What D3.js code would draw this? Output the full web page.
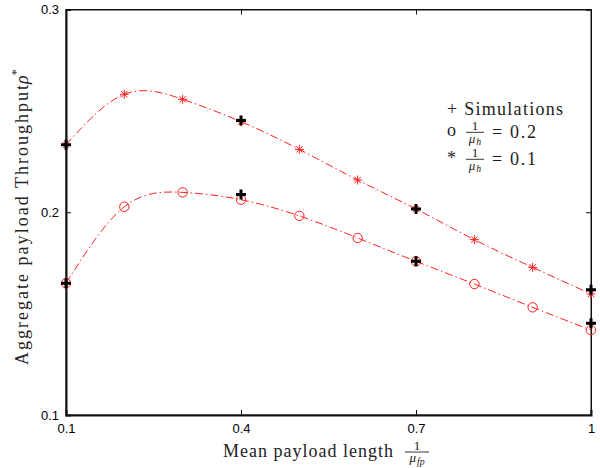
<!DOCTYPE html>
<html>
<head>
<meta charset="utf-8">
<script src="https://cdn.jsdelivr.net/npm/d3@7"></script>
<style>
  body { margin: 0; background: #fff; }
  .tick text { font-family: "Liberation Sans", Arial, sans-serif; font-size: 13px; }
  .lbl { font-family: "Liberation Serif", "Times New Roman", serif; fill: #222; }
</style>
</head>
<body>
<div id="chart"></div>
<script>
// mean payload length 1/mu_fp
const xVals = [0.1, 0.2, 0.3, 0.4, 0.5, 0.6, 0.7, 0.8, 0.9, 1.0]
// analytic throughput, 1/mu_h = 0.1 (stars) and 0.2 (circles)
const rhoH01 = [0.2333, 0.2582, 0.2557, 0.2447, 0.2310, 0.2159, 0.2016, 0.1865, 0.1728, 0.1597]
const rhoH02 = [0.1650, 0.2027, 0.2098, 0.2062, 0.1982, 0.1873, 0.1758, 0.1646, 0.1531, 0.1419]
// simulation points
const simX = [0.1, 0.4, 0.7, 1.0]
const simH01 = [0.2333, 0.2452, 0.2016, 0.1618]
const simH02 = [0.1650, 0.2088, 0.1758, 0.1452]
const xTicks = [0.1, 0.4, 0.7, 1]
const yTicks = [0.1, 0.2, 0.3]

const W = 600, H = 468
const pLeft = 66, pRight = 591, pTop = 9.5, pBottom = 415

const svg = d3.select('#chart')
  .append('svg')
  .attr('width', W)
  .attr('height', H)

const x = d3.scaleLinear().domain([0.1, 1]).range([pLeft, pRight])
const y = d3.scaleLinear().domain([0.1, 0.3]).range([pBottom, pTop])

// box
svg.append('rect')
  .attr('x', pLeft).attr('y', pTop)
  .attr('width', pRight - pLeft).attr('height', pBottom - pTop)
  .attr('fill', 'none').attr('stroke', '#111').attr('stroke-width', 1)

// axes, ticks inward
svg.append('g')
  .attr('transform', `translate(0,${pBottom})`)
  .call(d3.axisBottom(x).tickValues(xTicks).tickSize(-5).tickPadding(9).tickFormat(d3.format('')))
  .call(g => g.select('.domain').attr('stroke-width', 2))
svg.append('g')
  .attr('transform', `translate(0,${pTop})`)
  .call(d3.axisTop(x).tickValues(xTicks).tickSize(-5).tickFormat(''))
svg.append('g')
  .attr('transform', `translate(${pLeft},0)`)
  .call(d3.axisLeft(y).tickValues(yTicks).tickSize(-5).tickPadding(7).tickFormat(d3.format('')))
  .call(g => g.select('.domain').attr('stroke-width', 2))
svg.append('g')
  .attr('transform', `translate(${pRight},0)`)
  .call(d3.axisRight(y).tickValues(yTicks).tickSize(-5).tickFormat(''))
svg.selectAll('.domain').attr('stroke', '#111')
svg.selectAll('.tick line').attr('stroke', '#111')
svg.selectAll('.tick text').attr('fill', '#000')

// curves
const line = d3.line()
  .x(d => x(d[0]))
  .y(d => y(d[1]))
  .curve(d3.curveNatural)

const series = [rhoH01, rhoH02]
series.forEach(vals => {
  svg.append('path')
    .datum(xVals.map((v, i) => [v, vals[i]]))
    .attr('d', line)
    .attr('fill', 'none')
    .attr('stroke', '#ff2020')
    .attr('stroke-width', 1)
    .attr('stroke-dasharray', '8,3,1.5,3')
})

// star markers
const star = svg.append('g')
xVals.forEach((v, i) => {
  const cx = x(v), cy = y(rhoH01[i]), r = 4.5
  for (let a = 0; a < 4; a++) {
    const ang = a * Math.PI / 4
    star.append('line')
      .attr('x1', cx - r * Math.cos(ang)).attr('y1', cy - r * Math.sin(ang))
      .attr('x2', cx + r * Math.cos(ang)).attr('y2', cy + r * Math.sin(ang))
      .attr('stroke', '#ff2020').attr('stroke-width', 1)
  }
})

// circle markers
svg.selectAll('.circ')
  .data(xVals)
  .enter()
  .append('circle')
  .attr('cx', d => x(d))
  .attr('cy', (d, i) => y(rhoH02[i]))
  .attr('r', 4.7)
  .attr('fill', 'none')
  .attr('stroke', '#ff2020')
  .attr('stroke-width', 1)

// simulation pluses
const plus = svg.append('g')
;[simH01, simH02].forEach(vals => {
  simX.forEach((v, i) => {
    const cx = x(v), cy = y(vals[i]), r = 5
    plus.append('path')
      .attr('d', `M${cx - r},${cy}H${cx + r}M${cx},${cy - r}V${cy + r}`)
      .attr('stroke', '#000').attr('stroke-width', 3)
  })
})

// fraction helper: 1 over mu_sub
function frac(g, cx, barY, w, sub, size) {
  g.append('text').attr('class', 'lbl')
    .attr('x', cx).attr('y', barY - 2.5)
    .attr('text-anchor', 'middle').attr('font-size', size)
    .text('1')
  g.append('line')
    .attr('x1', cx - w / 2).attr('x2', cx + w / 2)
    .attr('y1', barY).attr('y2', barY)
    .attr('stroke', '#222').attr('stroke-width', 0.9)
  const t = g.append('text').attr('class', 'lbl')
    .attr('x', cx).attr('y', barY + size * 0.8)
    .attr('text-anchor', 'middle').attr('font-size', size)
  t.append('tspan').attr('font-style', 'italic').text('μ')
  t.append('tspan').attr('font-style', 'italic').attr('font-size', size * 0.75)
    .attr('dx', 1).attr('dy', size * 0.2).text(sub)
}

// legend
const lg = svg.append('g')
lg.append('text').attr('class', 'lbl')
  .attr('x', 447).attr('y', 115).attr('font-size', 18)
  .attr('textLength', 116)
  .text('+ Simulations')
lg.append('text').attr('class', 'lbl')
  .attr('x', 447).attr('y', 136).attr('font-size', 18).text('o')
frac(lg, 475, 132.3, 18, 'h', 13)
lg.append('text').attr('class', 'lbl')
  .attr('x', 492).attr('y', 138).attr('font-size', 18)
  .attr('textLength', 44).text('= 0.2')
lg.append('text').attr('class', 'lbl')
  .attr('x', 447).attr('y', 164).attr('font-size', 18).text('*')
frac(lg, 475, 159.3, 18, 'h', 13)
lg.append('text').attr('class', 'lbl')
  .attr('x', 492).attr('y', 165).attr('font-size', 18)
  .attr('textLength', 44).text('= 0.1')

// x label
svg.append('text').attr('class', 'lbl')
  .attr('x', 223).attr('y', 457).attr('font-size', 18)
  .attr('textLength', 170)
  .text('Mean payload length')
frac(svg, 417, 452, 24, 'fp', 13)

// y label
svg.append('text').attr('class', 'lbl')
  .attr('transform', 'translate(28,365) rotate(-90)')
  .attr('font-size', 18)
  .attr('textLength', 280)
  .text('Aggregate payload Throughput')
const yl = svg.append('text').attr('class', 'lbl')
  .attr('transform', 'translate(28,84) rotate(-90)')
  .attr('font-size', 18)
yl.append('tspan').attr('font-style', 'italic').text('ρ')
yl.append('tspan').attr('font-size', 12).attr('dy', -8).text('*')
</script>
</body>
</html>
